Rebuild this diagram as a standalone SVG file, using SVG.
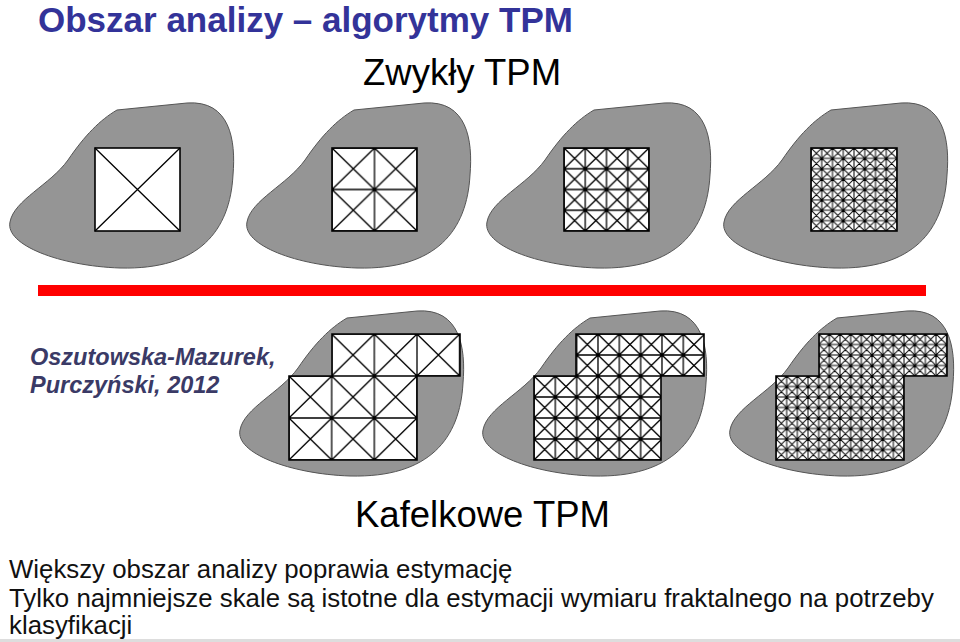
<svg xmlns="http://www.w3.org/2000/svg" width="960" height="642" viewBox="0 0 960 642">
<style>
.blob{fill:#959595;stroke:#555;stroke-width:1}
.g{fill:none;stroke:#000;stroke-width:1.3}
.o{stroke:#000;stroke-width:1.6}
text{font-family:"Liberation Sans",Arial,sans-serif}
</style>
<defs>
<path id="b" d="M117,110 L187,103 C230,100 236,140 233,175 C230,230 200,270 120,268 C60,266 5,245 10,222 C14,200 50,185 68,160 C85,135 100,120 117,110 Z"/>
<pattern id="t2" patternUnits="userSpaceOnUse" x="332" y="148" width="42.5" height="41.5"><rect width="42.5" height="41.5" fill="#fff"/><path class="g" d="M0,0L42.5,41.5M42.5,0L0,41.5M0,0H42.5V41.5H0Z"/></pattern>
<pattern id="t3" patternUnits="userSpaceOnUse" x="564" y="148" width="21.25" height="20.75"><rect width="21.25" height="20.75" fill="#fff"/><path class="g" d="M0,0L21.25,20.75M21.25,0L0,20.75M0,0H21.25V20.75H0Z"/></pattern>
<pattern id="t4" patternUnits="userSpaceOnUse" x="811" y="148" width="10.75" height="10.375"><rect width="10.75" height="10.375" fill="#fff"/><path class="g" style="stroke-width:1" d="M0,0L10.75,10.375M10.75,0L0,10.375M0,0H10.75V10.375H0Z"/></pattern>
<pattern id="k1" patternUnits="userSpaceOnUse" x="289" y="334" width="42.67" height="42"><rect width="42.67" height="42" fill="#fff"/><path class="g" d="M0,0L42.67,42M42.67,0L0,42M0,0H42.67V42H0Z"/></pattern>
<pattern id="k2" patternUnits="userSpaceOnUse" x="534" y="334" width="21.33" height="21"><rect width="21.33" height="21" fill="#fff"/><path class="g" d="M0,0L21.33,21M21.33,0L0,21M0,0H21.33V21H0Z"/></pattern>
<pattern id="k3" patternUnits="userSpaceOnUse" x="776" y="334" width="10.67" height="10.5"><rect width="10.67" height="10.5" fill="#fff"/><path class="g" style="stroke-width:1" d="M0,0L10.67,10.5M10.67,0L0,10.5M0,0H10.67V10.5H0Z"/></pattern>
</defs>
<rect width="960" height="642" fill="#fff"/>
<text x="38" y="32" font-size="35" font-weight="bold" fill="#333399">Obszar analizy – algorytmy TPM</text>
<text x="363" y="85" font-size="36.5">Zwykły TPM</text>

<g id="zwykly1"><use href="#b" class="blob"/>
<rect x="95" y="148" width="85" height="83" fill="#fff" class="o"/>
<path class="g" d="M95,148L180,231M180,148L95,231"/></g>
<g id="zwykly2"><use href="#b" class="blob" transform="translate(237,0)"/>
<rect x="332" y="148" width="85" height="83" fill="url(#t2)" class="o"/></g>
<g id="zwykly3"><use href="#b" class="blob" transform="translate(477,0)"/>
<rect x="564" y="148" width="85" height="83" fill="url(#t3)" class="o"/></g>
<g id="zwykly4"><use href="#b" class="blob" transform="translate(714,0)"/>
<rect x="811" y="148" width="86" height="83" fill="url(#t4)" class="o"/></g>

<rect x="38" y="285" width="888" height="11" fill="#ff0000"/>

<text x="30" y="365" font-size="23.5" font-style="italic" font-weight="bold" fill="#3a3a66">Oszutowska-Mazurek,</text>
<text x="30" y="393" font-size="23.5" font-style="italic" font-weight="bold" fill="#3a3a66">Purczyński, 2012</text>

<g id="kafel1"><use href="#b" class="blob" transform="translate(230,208)"/>
<path d="M332,334H460V376H417V460H289V376H332Z" fill="url(#k1)" class="o"/></g>
<g id="kafel2"><use href="#b" class="blob" transform="translate(473,208)"/>
<path d="M576,334H704V376H661V460H534V376H576Z" fill="url(#k2)" class="o"/></g>
<g id="kafel3"><use href="#b" class="blob" transform="translate(720,208)"/>
<path d="M819,334H947V376H904V460H776V376H819Z" fill="url(#k3)" class="o"/></g>

<text x="355" y="527" font-size="36.5">Kafelkowe TPM</text>
<g font-size="25.8" fill="#111">
<text x="9" y="578">Większy obszar analizy poprawia estymację</text>
<text x="9" y="607">Tylko najmniejsze skale są istotne dla estymacji wymiaru fraktalnego na potrzeby</text>
<text x="9" y="634">klasyfikacji</text>
</g>
<rect x="0" y="639" width="960" height="3" fill="#ddd"/>
</svg>
